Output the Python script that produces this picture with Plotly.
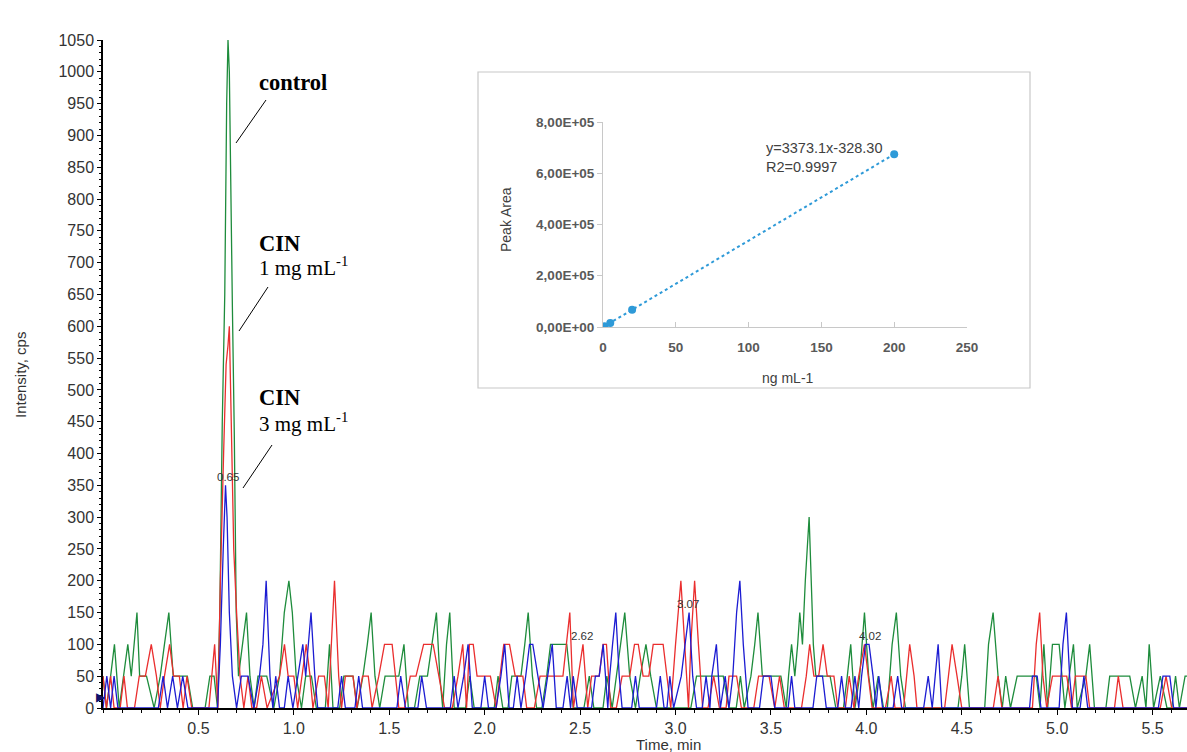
import plotly.graph_objects as go

# ---------------- main chromatogram data (time min, intensity cps) ----------------
green_pts = [(0.000, 50),(0.018, 0),(0.040, 50),(0.060, 100),(0.085, 0),(0.108, 50),(0.130, 100),(0.148, 50),(0.162, 100),(0.178, 150),(0.192, 50),(0.228, 50),(0.268, 0),(0.300, 50),(0.322, 100),(0.345, 150),(0.368, 50),(0.442, 50),(0.470, 0),(0.535, 0),(0.560, 50),(0.582, 50),(0.600, 0),(0.612, 150),(0.625, 450),(0.638, 650),(0.648, 950),(0.655, 1050),(0.662, 1000),(0.668, 820),(0.678, 630),(0.688, 430),(0.698, 150),(0.710, 50),(0.732, 100),(0.752, 150),(0.770, 50),(0.792, 0),(0.812, 50),(0.858, 50),(0.895, 0),(0.925, 50),(0.950, 150),(0.974, 200),(0.992, 150),(1.012, 50),(1.040, 0),(1.062, 50),(1.092, 50),(1.118, 0),(1.165, 0),(1.187, 100),(1.205, 0),(1.240, 0),(1.262, 50),(1.310, 50),(1.332, 0),(1.362, 50),(1.385, 100),(1.405, 150),(1.425, 50),(1.450, 0),(1.478, 50),(1.550, 50),(1.577, 100),(1.600, 0),(1.632, 0),(1.660, 50),(1.700, 50),(1.722, 100),(1.747, 150),(1.765, 50),(1.780, 0),(1.800, 100),(1.817, 150),(1.840, 0),(1.900, 0),(1.922, 50),(1.945, 0),(2.050, 0),(2.070, 50),(2.095, 0),(2.122, 0),(2.142, 50),(2.190, 50),(2.210, 100),(2.228, 150),(2.250, 50),(2.272, 0),(2.300, 0),(2.325, 50),(2.345, 100),(2.430, 100),(2.464, 0),(2.520, 0),(2.548, 50),(2.572, 0),(2.620, 0),(2.640, 50),(2.668, 0),(2.690, 50),(2.712, 100),(2.734, 150),(2.760, 50),(2.790, 0),(2.815, 50),(2.845, 100),(2.870, 50),(2.900, 0),(3.080, 0),(3.110, 50),(3.250, 50),(3.280, 0),(3.318, 0),(3.340, 50),(3.360, 0),(3.395, 50),(3.415, 100),(3.432, 150),(3.455, 50),(3.552, 50),(3.580, 0),(3.592, 50),(3.608, 100),(3.625, 50),(3.640, 100),(3.651, 150),(3.665, 100),(3.680, 200),(3.700, 300),(3.712, 200),(3.722, 100),(3.735, 50),(3.810, 50),(3.840, 0),(3.880, 0),(3.900, 50),(3.918, 100),(3.940, 0),(3.965, 50),(3.990, 150),(4.012, 50),(4.035, 0),(4.062, 50),(4.090, 0),(4.110, 0),(4.135, 100),(4.157, 150),(4.180, 50),(4.205, 0),(4.480, 0),(4.500, 50),(4.515, 100),(4.540, 0),(4.620, 0),(4.640, 100),(4.664, 150),(4.690, 50),(4.712, 0),(4.730, 50),(4.755, 0),(4.790, 50),(4.890, 50),(4.910, 0),(4.930, 100),(4.950, 0),(4.975, 100),(5.010, 100),(5.040, 0),(5.062, 50),(5.085, 100),(5.105, 0),(5.150, 50),(5.170, 100),(5.195, 0),(5.255, 0),(5.275, 50),(5.380, 50),(5.410, 0),(5.445, 50),(5.465, 0),(5.482, 100),(5.505, 0),(5.540, 50),(5.575, 0),(5.600, 0),(5.620, 50),(5.640, 0),(5.670, 50),(5.680, 50)]

red_pts = [(0.000, 50),(0.018, 0),(0.040, 50),(0.058, 0),(0.090, 0),(0.110, 50),(0.128, 0),(0.165, 0),(0.190, 50),(0.222, 50),(0.253, 100),(0.280, 50),(0.300, 0),(0.322, 50),(0.349, 100),(0.370, 50),(0.400, 50),(0.420, 0),(0.440, 50),(0.465, 0),(0.555, 0),(0.585, 100),(0.602, 0),(0.615, 200),(0.632, 400),(0.645, 540),(0.655, 570),(0.662, 600),(0.672, 450),(0.685, 250),(0.700, 150),(0.718, 50),(0.738, 0),(0.760, 50),(0.780, 0),(0.805, 0),(0.830, 50),(0.860, 0),(0.925, 50),(0.951, 100),(0.970, 50),(1.000, 50),(1.020, 0),(1.042, 50),(1.065, 100),(1.085, 50),(1.100, 0),(1.130, 50),(1.160, 50),(1.180, 0),(1.195, 100),(1.213, 200),(1.235, 50),(1.250, 0),(1.270, 50),(1.310, 50),(1.330, 0),(1.360, 50),(1.390, 50),(1.410, 0),(1.445, 50),(1.475, 100),(1.515, 100),(1.550, 0),(1.580, 0),(1.610, 50),(1.640, 50),(1.680, 100),(1.730, 100),(1.760, 50),(1.790, 0),(1.830, 0),(1.860, 50),(1.885, 100),(1.905, 0),(1.920, 100),(1.940, 100),(1.960, 50),(2.030, 50),(2.060, 0),(2.080, 50),(2.100, 100),(2.130, 100),(2.160, 50),(2.200, 50),(2.220, 0),(2.260, 0),(2.290, 50),(2.410, 50),(2.430, 100),(2.446, 150),(2.465, 0),(2.490, 50),(2.515, 100),(2.540, 0),(2.560, 50),(2.600, 50),(2.620, 100),(2.638, 100),(2.660, 0),(2.690, 0),(2.720, 50),(2.760, 50),(2.785, 100),(2.805, 100),(2.830, 50),(2.860, 50),(2.883, 100),(2.935, 100),(2.975, 0),(3.000, 100),(3.028, 200),(3.048, 100),(3.068, 0),(3.080, 100),(3.100, 200),(3.120, 100),(3.142, 0),(3.170, 0),(3.200, 50),(3.230, 0),(3.265, 0),(3.280, 50),(3.320, 50),(3.345, 0),(3.410, 0),(3.435, 50),(3.490, 50),(3.520, 0),(3.545, 50),(3.570, 0),(3.660, 0),(3.685, 50),(3.703, 100),(3.725, 50),(3.750, 50),(3.773, 100),(3.795, 50),(3.830, 50),(3.850, 0),(3.890, 0),(3.910, 50),(3.935, 0),(3.960, 50),(3.990, 100),(4.010, 50),(4.030, 0),(4.100, 0),(4.130, 50),(4.150, 0),(4.195, 0),(4.227, 100),(4.250, 50),(4.265, 0),(4.410, 0),(4.430, 50),(4.449, 100),(4.475, 50),(4.500, 0),(4.665, 0),(4.690, 50),(4.710, 0),(4.870, 0),(4.890, 100),(4.908, 150),(4.925, 50),(4.945, 0),(4.975, 50),(5.050, 50),(5.075, 0),(5.095, 50),(5.150, 50),(5.170, 0),(5.300, 0),(5.320, 50),(5.345, 0),(5.540, 0),(5.570, 50),(5.600, 0),(5.680, 0)]

blue_pts = [(0.000, 0),(0.020, 50),(0.040, 0),(0.058, 50),(0.078, 0),(0.290, 0),(0.315, 50),(0.338, 0),(0.365, 50),(0.390, 0),(0.418, 50),(0.445, 0),(0.600, 0),(0.615, 100),(0.630, 250),(0.642, 350),(0.650, 300),(0.662, 150),(0.678, 50),(0.700, 0),(0.725, 50),(0.760, 50),(0.790, 0),(0.820, 50),(0.838, 100),(0.855, 200),(0.875, 50),(0.890, 0),(0.905, 50),(0.925, 0),(0.950, 0),(0.970, 50),(0.995, 0),(1.020, 50),(1.047, 100),(1.062, 50),(1.075, 100),(1.090, 150),(1.110, 50),(1.125, 0),(1.230, 0),(1.250, 50),(1.270, 0),(1.320, 0),(1.340, 50),(1.360, 0),(1.540, 0),(1.560, 50),(1.585, 0),(1.650, 0),(1.670, 50),(1.695, 0),(1.820, 0),(1.840, 50),(1.860, 0),(1.890, 50),(1.913, 100),(1.935, 0),(1.980, 0),(2.000, 50),(2.020, 0),(2.060, 0),(2.085, 50),(2.105, 100),(2.128, 0),(2.150, 0),(2.170, 50),(2.190, 0),(2.215, 50),(2.235, 100),(2.252, 100),(2.280, 50),(2.306, 0),(2.330, 50),(2.354, 100),(2.375, 0),(2.410, 0),(2.432, 50),(2.450, 0),(2.464, 50),(2.485, 0),(2.560, 0),(2.580, 50),(2.600, 50),(2.621, 100),(2.645, 0),(2.655, 50),(2.670, 100),(2.687, 150),(2.705, 50),(2.720, 0),(2.770, 0),(2.790, 50),(2.810, 0),(2.900, 0),(2.920, 50),(2.940, 0),(2.955, 0),(2.970, 50),(2.990, 0),(3.030, 50),(3.050, 100),(3.071, 150),(3.090, 50),(3.110, 0),(3.140, 0),(3.160, 50),(3.180, 0),(3.190, 50),(3.214, 100),(3.235, 0),(3.260, 50),(3.280, 0),(3.300, 50),(3.320, 150),(3.337, 200),(3.355, 100),(3.380, 0),(3.440, 0),(3.460, 50),(3.500, 50),(3.520, 0),(3.590, 0),(3.608, 50),(3.625, 0),(3.720, 0),(3.740, 50),(3.770, 50),(3.790, 0),(3.850, 0),(3.870, 50),(3.890, 0),(3.920, 0),(3.940, 50),(3.960, 0),(3.975, 50),(3.995, 100),(4.014, 100),(4.035, 50),(4.050, 0),(4.065, 50),(4.085, 0),(4.140, 0),(4.164, 50),(4.185, 0),(4.300, 0),(4.324, 50),(4.345, 0),(4.360, 50),(4.376, 100),(4.395, 0),(4.855, 0),(4.870, 50),(4.895, 50),(4.915, 0),(5.010, 0),(5.030, 100),(5.048, 150),(5.065, 50),(5.080, 0),(5.120, 0),(5.140, 50),(5.160, 0),(5.530, 0),(5.554, 50),(5.590, 50),(5.610, 0),(5.680, 0)]

x_tick_vals = [0.5, 1.0, 1.5, 2.0, 2.5, 3.0, 3.5, 4.0, 4.5, 5.0, 5.5]
y_tick_vals = list(range(0, 1051, 50))

# ---------------- inset calibration data ----------------
cal_conc = [0, 1, 5, 20, 200]
cal_area = [0, 3000, 16000, 67000, 674000]
trend_x = [0, 200]
trend_y = [-328, 674292]
inset_y_ticks = [0, 200000, 400000, 600000, 800000]
inset_y_text = ["0,00E+00", "2,00E+05", "4,00E+05", "6,00E+05", "8,00E+05"]
inset_x_ticks = [0, 50, 100, 150, 200, 250]

# ---------------- geometry helpers (pixel -> paper) ----------------
W, H = 1187, 752
ML, MR, MT, MB = 103, 0, 40, 44
PW, PH = W - ML - MR, H - MT - MB


def px(xp):
    return (xp - ML) / PW


def py(yp):
    return (H - MB - yp) / PH


fig = go.Figure()

series = [("control", green_pts, "#1e8c3c"), ("CIN 1", red_pts, "#ea2e2e"), ("CIN 3", blue_pts, "#1c1cd2")]
for name, pts, col in series:
    fig.add_trace(go.Scatter(
        x=[p[0] for p in pts], y=[p[1] for p in pts], mode="lines", name=name,
        line=dict(color=col, width=1.3), showlegend=False, xaxis="x", yaxis="y"))

# inset traces
fig.add_trace(go.Scatter(x=trend_x, y=trend_y, mode="lines", line=dict(color="#2e9ad8", width=2, dash="dot"),
                         showlegend=False, xaxis="x2", yaxis="y2"))
fig.add_trace(go.Scatter(x=cal_conc, y=cal_area, mode="markers", marker=dict(color="#2e9ad8", size=8),
                         showlegend=False, xaxis="x2", yaxis="y2"))

sans = "Liberation Sans, Arial, sans-serif"
tick_font = dict(family=sans, size=16, color="#333333")
inset_tick_font = dict(family=sans, size=13.5, color="#595959", weight="bold")

fig.update_layout(
    width=W, height=H,
    margin=dict(l=ML, r=MR, t=MT, b=MB, autoexpand=False),
    paper_bgcolor="white", plot_bgcolor="rgba(0,0,0,0)",
    xaxis=dict(range=[0, 5.68], domain=[0, 1], tickvals=x_tick_vals, ticktext=[f"{v:.1f}" for v in x_tick_vals],
               showline=True, linecolor="black", linewidth=1.5, ticks="outside", ticklen=5, tickcolor="black",
               minor=dict(ticks="outside", dtick=0.1, ticklen=3, tickcolor="black"),
               showgrid=False, zeroline=False, tickfont=tick_font, fixedrange=True),
    yaxis=dict(range=[0, 1050], domain=[0, 1], tickvals=y_tick_vals, showline=True, linecolor="black", linewidth=1.5,
               ticks="outside", ticklen=4, tickcolor="black",
               minor=dict(ticks="outside", dtick=10, ticklen=2, tickcolor="black"),
               showgrid=False, zeroline=False, tickfont=tick_font, fixedrange=True),
    xaxis2=dict(domain=[px(603), px(967)], anchor="y2", range=[0, 250], tickvals=inset_x_ticks,
                showline=True, linecolor="#c8c8c8", linewidth=1, ticks="inside", ticklen=5, tickcolor="#c8c8c8",
                ticklabelstandoff=8,
                showgrid=False, zeroline=False, tickfont=inset_tick_font),
    yaxis2=dict(domain=[py(327), py(122)], anchor="x2", range=[0, 800000], tickvals=inset_y_ticks, ticktext=inset_y_text,
                showline=True, linecolor="#c8c8c8", linewidth=1, ticks="outside", ticklen=5, tickcolor="#c8c8c8",
                showgrid=False, zeroline=False, tickfont=inset_tick_font),
)

shapes = []
# inset frame
shapes.append(dict(type="rect", xref="paper", yref="paper", x0=px(478), x1=px(1030), y0=py(388), y1=py(72),
                   line=dict(color="#c8c8c8", width=1.2), fillcolor="rgba(0,0,0,0)", layer="below"))
# leader lines for the labels
for (x0, y0, x1, y1) in [(266, 100, 236, 143), (268, 287, 239, 331), (272, 445, 243, 488)]:
    shapes.append(dict(type="line", xref="paper", yref="paper", x0=px(x0), y0=py(y0), x1=px(x1), y1=py(y1),
                       line=dict(color="black", width=1)))
fig.update_layout(shapes=shapes)

serif = "Liberation Serif, Times New Roman, serif"
ann = []


def label(xp, yp, text, size, family, color="black", bold=False, xanchor="left"):
    ann.append(dict(x=px(xp), y=py(yp), xref="paper", yref="paper", text=(f"<b>{text}</b>" if bold else text),
                    showarrow=False, xanchor=xanchor, yanchor="middle",
                    font=dict(size=size, family=family, color=color)))


label(257, 83, "control", 22.5, serif, bold=True)
label(257, 243, "CIN", 22.5, serif, bold=True)
label(257, 266, "1 mg mL<sup>-1</sup>", 21, serif)
label(257, 397, "CIN", 22.5, serif, bold=True)
label(257, 422, "3 mg mL<sup>-1</sup>", 21, serif)

label(228, 477, "0.65", 11.5, sans, "#333333", xanchor="center")
label(582, 636, "2.62", 11.5, sans, "#333333", xanchor="center")
label(688, 604, "3.07", 11.5, sans, "#333333", xanchor="center")
label(870, 636, "4.02", 11.5, sans, "#333333", xanchor="center")

# axis titles
ann.append(dict(x=px(20), y=py(375), xref="paper", yref="paper", text="Intensity, cps", showarrow=False,
                textangle=-90, font=dict(size=15, family=sans, color="#333333"), xanchor="center", yanchor="middle"))
ann.append(dict(x=px(668), y=py(744), xref="paper", yref="paper", text="Time, min", showarrow=False,
                font=dict(size=15, family=sans, color="#333333"), xanchor="center", yanchor="middle", borderpad=0))
# start marker
ann.append(dict(x=px(101), y=py(697), xref="paper", yref="paper", text="\u25B6", showarrow=False,
                font=dict(size=12, family="DejaVu Sans", color="#10106a"), xanchor="center", yanchor="middle"))

# inset texts
ann.append(dict(x=px(506), y=py(220), xref="paper", yref="paper", text="Peak Area", showarrow=False, textangle=-90,
                font=dict(size=14, family=sans, color="#404040"), xanchor="center", yanchor="middle"))
ann.append(dict(x=px(788), y=py(378), xref="paper", yref="paper", text="ng mL-1", showarrow=False,
                font=dict(size=14, family=sans, color="#404040"), xanchor="center", yanchor="middle"))
ann.append(dict(x=px(764), y=py(157), xref="paper", yref="paper", text="y=3373.1x-328.30<br>R2=0.9997", showarrow=False,
                align="left", font=dict(size=14.5, family=sans, color="#404040"), xanchor="left", yanchor="middle"))

fig.update_layout(annotations=ann)

fig.write_html("out.html", config={"displayModeBar": False},
               post_script="document.body.style.margin='0px';document.body.style.overflow='hidden';")
